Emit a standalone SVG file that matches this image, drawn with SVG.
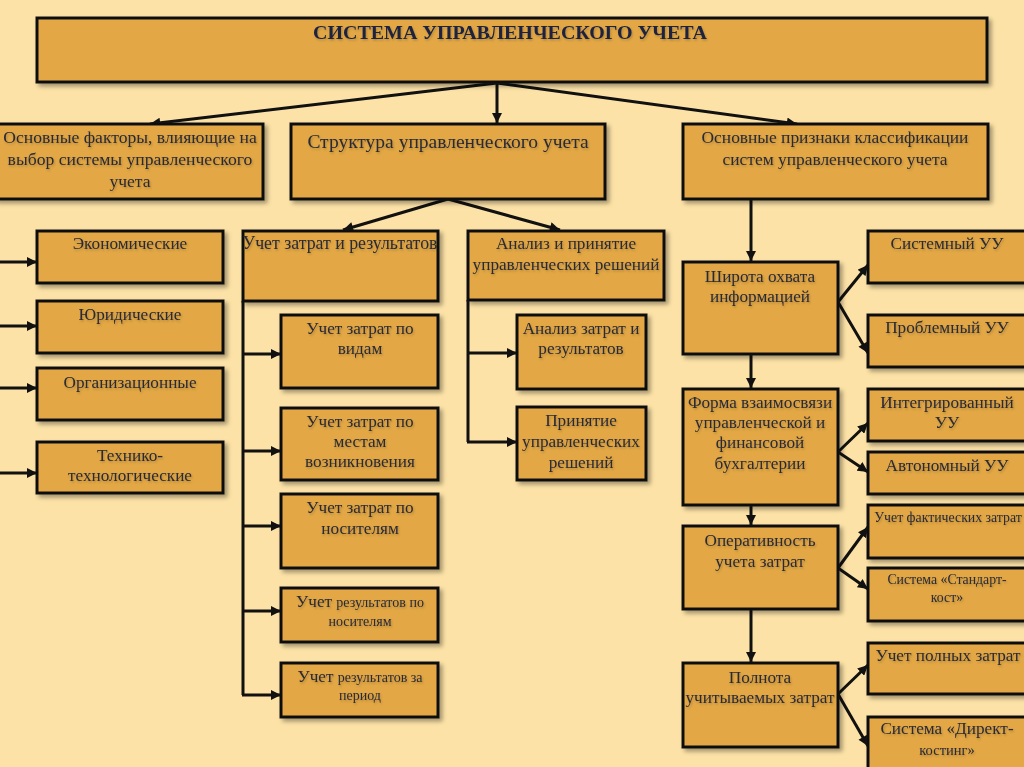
<svg xmlns="http://www.w3.org/2000/svg" width="1024" height="767" viewBox="0 0 1024 767">
<defs>
<filter id="sh" x="-10%" y="-10%" width="130%" height="140%"><feDropShadow dx="3" dy="3" stdDeviation="2" flood-color="#000" flood-opacity="0.35"/></filter>
<filter id="tsh" x="-5%" y="-20%" width="110%" height="160%"><feDropShadow dx="1" dy="1.5" stdDeviation="1" flood-color="#000" flood-opacity="0.22"/></filter>
<marker id="ah" viewBox="0 0 10 10" refX="10" refY="5" markerWidth="3.6" markerHeight="3.4" orient="auto" markerUnits="strokeWidth"><path d="M0,0 L10,5 L0,10 z" fill="#111"/></marker>
<style>
.b{fill:#E3A844;stroke:#111;stroke-width:3;filter:url(#sh)}
.t{font-family:"Liberation Serif","DejaVu Serif",serif;font-size:17.2px;fill:#2A2A36;text-anchor:middle;filter:url(#tsh)}
.s{font-size:14px}
.ti{font-family:"Liberation Serif","DejaVu Serif",serif;font-size:18px;font-weight:bold;fill:#1B2340;text-anchor:middle;filter:url(#tsh)}
.c path,.c line{stroke:#111;stroke-width:3;fill:none}
.a{marker-end:url(#ah)}
</style>
</defs>
<rect width="1024" height="767" fill="#FCE2A6"/>
<g class="c" id="connectors">
<line class="a" x1="497" y1="83" x2="150" y2="124"/>
<line class="a" x1="497" y1="83" x2="497" y2="123"/>
<line class="a" x1="497" y1="83" x2="797" y2="124"/>
<line class="a" x1="448" y1="199" x2="343" y2="230"/>
<line class="a" x1="448" y1="199" x2="560" y2="230"/>
<line class="a" x1="0" y1="262" x2="37" y2="262"/>
<line class="a" x1="0" y1="326" x2="37" y2="326"/>
<line class="a" x1="0" y1="388" x2="37" y2="388"/>
<line class="a" x1="0" y1="473" x2="37" y2="473"/>
<path d="M243,301 V695"/>
<line class="a" x1="243" y1="354" x2="281" y2="354"/>
<line class="a" x1="243" y1="451" x2="281" y2="451"/>
<line class="a" x1="243" y1="526" x2="281" y2="526"/>
<line class="a" x1="243" y1="611" x2="281" y2="611"/>
<line class="a" x1="242" y1="695" x2="281" y2="695"/>
<path d="M468,300 V442"/>
<line class="a" x1="468" y1="353" x2="517" y2="353"/>
<line class="a" x1="467" y1="442" x2="517" y2="442"/>
<line class="a" x1="751" y1="199" x2="751" y2="261"/>
<line class="a" x1="751" y1="354" x2="751" y2="388"/>
<line class="a" x1="751" y1="505" x2="751" y2="525"/>
<line class="a" x1="751" y1="609" x2="751" y2="662"/>
<line class="a" x1="838" y1="302" x2="868" y2="265"/>
<line class="a" x1="838" y1="302" x2="868" y2="353"/>
<line class="a" x1="838" y1="452" x2="868" y2="423"/>
<line class="a" x1="838" y1="452" x2="868" y2="472"/>
<line class="a" x1="838" y1="568" x2="868" y2="527"/>
<line class="a" x1="838" y1="568" x2="868" y2="589"/>
<line class="a" x1="838" y1="694" x2="868" y2="665"/>
<line class="a" x1="838" y1="694" x2="868" y2="746"/>
</g>
<g id="root"><rect class="b" x="37" y="18" width="950" height="64"/><text class="ti" x="510" y="39" textLength="394" lengthAdjust="spacingAndGlyphs">СИСТЕМА УПРАВЛЕНЧЕСКОГО УЧЕТА</text></g>
<g id="factors"><rect class="b" x="-5" y="124" width="268" height="75"/><text class="t" x="130" y="143" style="font-size:17.6px">Основные факторы, влияющие на</text><text class="t" x="130" y="165" style="font-size:17.6px">выбор системы управленческого</text><text class="t" x="130" y="187" style="font-size:17.6px">учета</text></g>
<g id="structure"><rect class="b" x="291" y="124" width="314" height="75"/><text class="t" x="448" y="148" style="font-size:19.5px">Структура управленческого учета</text></g>
<g id="classification"><rect class="b" x="683" y="124" width="305" height="75"/><text class="t" x="835" y="143" style="font-size:17.4px">Основные признаки классификации</text><text class="t" x="835" y="165" style="font-size:17.4px">систем управленческого учета</text></g>
<g id="econ"><rect class="b" x="37" y="231" width="186" height="52"/><text class="t" x="130" y="249">Экономические</text></g>
<g id="legal"><rect class="b" x="37" y="301" width="186" height="52"/><text class="t" x="130" y="320">Юридические</text></g>
<g id="org"><rect class="b" x="37" y="368" width="186" height="52"/><text class="t" x="130" y="388">Организационные</text></g>
<g id="tech"><rect class="b" x="37" y="442" width="186" height="51"/><text class="t" x="130" y="461">Технико-</text><text class="t" x="130" y="481">технологические</text></g>
<g id="costres"><rect class="b" x="243" y="231" width="195" height="70"/><text class="t" x="340" y="249" style="font-size:17.8px">Учет затрат и результатов</text></g>
<g id="bytype"><rect class="b" x="281" y="315" width="157" height="73"/><text class="t" x="360" y="334">Учет затрат по</text><text class="t" x="360" y="354">видам</text></g>
<g id="byplace"><rect class="b" x="281" y="408" width="157" height="72"/><text class="t" x="360" y="427">Учет затрат по</text><text class="t" x="360" y="447">местам</text><text class="t" x="360" y="467">возникновения</text></g>
<g id="bycarrier"><rect class="b" x="281" y="494" width="157" height="74"/><text class="t" x="360" y="513">Учет затрат по</text><text class="t" x="360" y="534">носителям</text></g>
<g id="resbycarrier"><rect class="b" x="281" y="588" width="157" height="54"/><text class="t" x="360" y="607"><tspan>Учет </tspan><tspan class="s">результатов по</tspan></text><text class="t s" x="360" y="626">носителям</text></g>
<g id="resperiod"><rect class="b" x="281" y="663" width="157" height="54"/><text class="t" x="360" y="682"><tspan>Учет </tspan><tspan class="s">результатов за</tspan></text><text class="t s" x="360" y="700">период</text></g>
<g id="analysis"><rect class="b" x="468" y="231" width="196" height="69"/><text class="t" x="566" y="249">Анализ и принятие</text><text class="t" x="566" y="270">управленческих решений</text></g>
<g id="costanalysis"><rect class="b" x="517" y="315" width="129" height="74"/><text class="t" x="581" y="334">Анализ затрат и</text><text class="t" x="581" y="354">результатов</text></g>
<g id="decisions"><rect class="b" x="517" y="407" width="129" height="73"/><text class="t" x="581" y="426">Принятие</text><text class="t" x="581" y="447">управленческих</text><text class="t" x="581" y="468">решений</text></g>
<g id="breadth"><rect class="b" x="683" y="262" width="155" height="92"/><text class="t" x="760" y="282">Широта охвата</text><text class="t" x="760" y="302">информацией</text></g>
<g id="form"><rect class="b" x="683" y="389" width="155" height="116"/><text class="t" x="760" y="408">Форма взаимосвязи</text><text class="t" x="760" y="428">управленческой и</text><text class="t" x="760" y="448">финансовой</text><text class="t" x="760" y="469">бухгалтерии</text></g>
<g id="operative"><rect class="b" x="683" y="526" width="155" height="83"/><text class="t" x="760" y="546">Оперативность</text><text class="t" x="760" y="567">учета затрат</text></g>
<g id="completeness"><rect class="b" x="683" y="663" width="155" height="84"/><text class="t" x="760" y="683">Полнота</text><text class="t" x="760" y="703">учитываемых затрат</text></g>
<g id="systemic"><rect class="b" x="868" y="231" width="162" height="52"/><text class="t" x="947" y="249">Системный УУ</text></g>
<g id="problem"><rect class="b" x="868" y="315" width="162" height="52"/><text class="t" x="947" y="333">Проблемный УУ</text></g>
<g id="integrated"><rect class="b" x="868" y="389" width="162" height="52"/><text class="t" x="947" y="408">Интегрированный</text><text class="t" x="947" y="428">УУ</text></g>
<g id="autonomous"><rect class="b" x="868" y="452" width="162" height="42"/><text class="t" x="947" y="471">Автономный УУ</text></g>
<g id="actual"><rect class="b" x="868" y="505" width="162" height="53"/><text class="t" x="948" y="522" style="font-size:13.8px">Учет фактических затрат</text></g>
<g id="standard"><rect class="b" x="868" y="568" width="162" height="53"/><text class="t" x="947" y="584" style="font-size:13.8px">Система «Стандарт-</text><text class="t" x="947" y="602" style="font-size:13.8px">кост»</text></g>
<g id="full"><rect class="b" x="868" y="643" width="162" height="51"/><text class="t" x="948" y="661">Учет полных затрат</text></g>
<g id="direct"><rect class="b" x="868" y="717" width="162" height="60"/><text class="t" x="947" y="734">Система «Директ-</text><text class="t" x="947" y="755" style="font-size:14.5px">костинг»</text></g>
</svg>
